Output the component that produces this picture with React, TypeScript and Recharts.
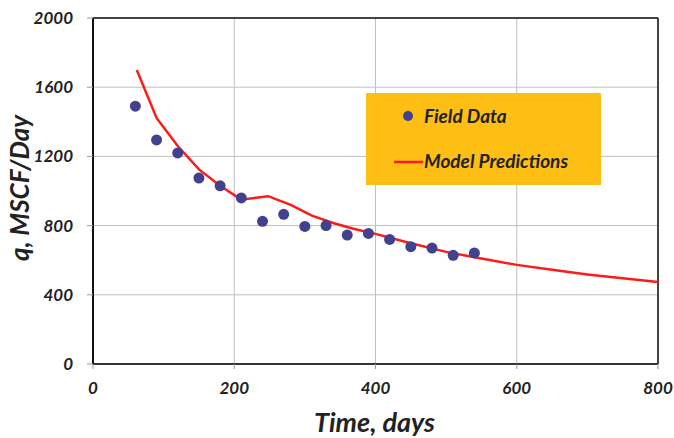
import React from 'react';
import { ComposedChart, XAxis, YAxis, CartesianGrid, Scatter, Line, ReferenceLine, Legend, Label } from 'recharts';

const fieldT = [60, 90, 120, 150, 180, 210, 240, 270, 300, 330, 360, 390, 420, 450, 480, 510, 540];
const fieldQ = [1490, 1295, 1220, 1075, 1030, 960, 825, 865, 795, 800, 745, 755, 720, 678, 670, 628, 642];

const modelT = [62, 90, 120, 150, 180, 210, 248, 280, 310, 340, 370, 400, 450, 500, 550, 600, 650, 700, 750, 800];
const modelQ = [1700, 1422, 1260, 1125, 1030, 950, 970, 920, 858, 815, 780, 752, 698, 648, 610, 573, 545, 518, 495, 474];

const xTicks = [0, 200, 400, 600, 800];
const yTicks = [0, 400, 800, 1200, 1600, 2000];

const fieldData = fieldT.map((t, i) => ({ t, q: fieldQ[i] }));
const modelData = modelT.map((t, i) => ({ t, q: modelQ[i] }));

const FONT = 'Lato, "Open Sans", sans-serif';
const tickStyle = { fontFamily: FONT, fontSize: 17, fontWeight: 700, fontStyle: 'italic', fill: '#222' };

const LegendBox = () => (
  <div style={{ position: 'relative', width: 235, height: 92, background: '#FDBF13', fontFamily: FONT, fontWeight: 700, fontStyle: 'italic', fontSize: 19, color: '#222' }}>
    <svg width={235} height={92} style={{ position: 'absolute', left: 0, top: 0 }}>
      <circle cx={42} cy={23} r={5} fill="#41418f" />
      <line x1={28} x2={57} y1={69} y2={69} stroke="#ff1a1a" strokeWidth={2.5} />
    </svg>
    <span style={{ position: 'absolute', left: 58, top: 11, lineHeight: '24px' }}>Field Data</span>
    <span style={{ position: 'absolute', left: 58, top: 56, lineHeight: '24px' }}>Model Predictions</span>
  </div>
);

export default function App() {
  return (
    <div style={{ position: 'absolute', left: 0, top: 0, background: '#fff' }}>
      <ComposedChart width={674} height={438} margin={{ top: 18, right: 16, left: 0, bottom: 0 }}>
        <CartesianGrid stroke="#c0c0c0" strokeWidth={1} />
        <XAxis
          dataKey="t"
          type="number"
          domain={[0, 800]}
          ticks={xTicks}
          height={74}
          tick={tickStyle}
          tickSize={5}
          tickMargin={13}
          axisLine={{ stroke: '#333', strokeWidth: 2 }}
          tickLine={{ stroke: '#999' }}
        >
          <Label
            content={({ viewBox }: any) => (
              <text x={viewBox.x + viewBox.width / 2 - 1} y={viewBox.y + 68} textAnchor="middle" style={{ fontFamily: FONT, fontSize: 27, fontWeight: 700, fontStyle: 'italic', fill: '#222' }}>
                Time, days
              </text>
            )}
          />
        </XAxis>
        <YAxis
          dataKey="q"
          type="number"
          domain={[0, 2000]}
          ticks={yTicks}
          width={93}
          tick={tickStyle}
          tickSize={6}
          tickMargin={14}
          axisLine={{ stroke: '#111', strokeWidth: 2 }}
          tickLine={{ stroke: '#999' }}
        >
          <Label
            content={({ viewBox }: any) => {
              const cx = 19;
              const cy = viewBox.y + viewBox.height / 2 - 3;
              return (
                <text x={cx} y={cy} textAnchor="middle" dominantBaseline="central" transform={`rotate(-90 ${cx} ${cy})`} style={{ fontFamily: FONT, fontSize: 26, fontWeight: 700, fontStyle: 'italic', fill: '#222' }}>
                  q, MSCF/Day
                </text>
              );
            }}
          />
        </YAxis>
        <ReferenceLine y={2000} stroke="#111" strokeWidth={1.5} />
        <ReferenceLine x={800} stroke="#111" strokeWidth={1.5} />
        <Line data={modelData} dataKey="q" type="linear" stroke="#ff1a1a" strokeWidth={2.5} dot={false} isAnimationActive={false} name="Model Predictions" />
        <Scatter data={fieldData} dataKey="q" fill="#41418f" isAnimationActive={false} name="Field Data"
          shape={(p: any) => <circle cx={p.cx} cy={p.cy} r={5.5} fill="#41418f" />} />
        <Legend layout="horizontal" verticalAlign="middle" align="center" content={() => <LegendBox />} wrapperStyle={{ position: 'absolute', left: 366, top: 93, width: 235, height: 92 }} />
      </ComposedChart>
    </div>
  );
}
